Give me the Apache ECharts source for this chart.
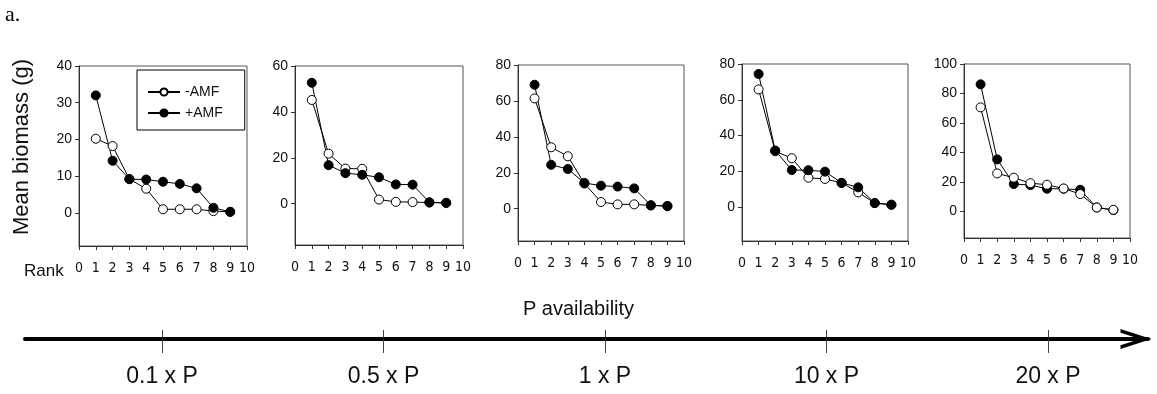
<!DOCTYPE html>
<html>
<head>
<meta charset="utf-8">
<script src="https://cdn.jsdelivr.net/npm/echarts@6/dist/echarts.min.js"></script>
<style>
  html, body { margin: 0; padding: 0; background: #fff; }
  #chart { width: 1157px; height: 394px; }
</style>
</head>
<body>
<div id="chart"></div>
<script>
// ---- data ----
const ranks = [1, 2, 3, 4, 5, 6, 7, 8, 9];
const seriesNames = ['-AMF', '+AMF'];
const pLabels = ['0.1 x P', '0.5 x P', '1 x P', '10 x P', '20 x P'];
const rankTicks = [0, 1, 2, 3, 4, 5, 6, 7, 8, 9, 10];

const minusP01 = [20.2, 18.2, 9.2, 6.6, 1.0, 1.0, 1.0, 0.5, 0.3];
const plusP01  = [32.0, 14.2, 9.2, 9.1, 8.5, 7.9, 6.7, 1.4, 0.3];
const minusP05 = [45.2, 21.8, 15.3, 15.2, 1.8, 0.8, 0.7, 0.5, 0.3];
const plusP05  = [52.7, 16.8, 13.3, 12.6, 11.5, 8.4, 8.3, 0.6, 0.4];
const minusP1  = [61.4, 34.2, 29.2, 14.0, 3.7, 2.4, 2.4, 1.8, 1.4];
const plusP1   = [69.0, 24.4, 22.1, 14.3, 12.8, 12.3, 11.3, 1.9, 1.5];
const minusP10 = [65.8, 31.2, 27.3, 16.4, 15.7, 13.5, 8.2, 2.2, 1.3];
const plusP10  = [74.4, 31.6, 20.7, 20.6, 19.8, 13.5, 11.0, 2.2, 1.3];
const minusP20 = [70.6, 25.8, 22.9, 19.2, 18.1, 15.6, 11.8, 2.7, 1.1];
const plusP20  = [86.2, 35.3, 18.6, 17.9, 15.4, 15.4, 14.7, 2.7, 0.9];

const yTicksP01 = [0, 10, 20, 30, 40];
const yTicksP05 = [0, 20, 40, 60];
const yTicksP1  = [0, 20, 40, 60, 80];
const yTicksP10 = [0, 20, 40, 60, 80];
const yTicksP20 = [0, 20, 40, 60, 80, 100];

const yMin = [-9, -18, -18, -19, -18];
const yMax = [40, 60, 80, 80, 100];

const minusAll = [minusP01, minusP05, minusP1, minusP10, minusP20];
const plusAll = [plusP01, plusP05, plusP1, plusP10, plusP20];
const yTicksAll = [yTicksP01, yTicksP05, yTicksP1, yTicksP10, yTicksP20];
const pTickPos = [1, 2, 3, 4, 5];

// ---- layout (pixels) ----
const layout = [
  { left: 79,  top: 66, width: 168, height: 180 },
  { left: 295, top: 66, width: 168, height: 179 },
  { left: 518, top: 65, width: 166, height: 176 },
  { left: 742, top: 64, width: 166, height: 177 },
  { left: 964, top: 64, width: 166, height: 174 }
];
const topOnMinus = [false, false, false, false, true];

const FONT = "'Liberation Sans', Arial, sans-serif";
const NARROW = "'Liberation Sans Narrow', 'Arial Narrow', 'DejaVu Sans Condensed', 'Liberation Sans', sans-serif";
const grids = [], xAxes = [], yAxes = [], series = [];

layout.forEach((g, i) => {
  grids.push({ left: g.left, top: g.top, width: g.width, height: g.height,
    show: true, borderColor: '#555', borderWidth: 1, backgroundColor: 'transparent' });
  xAxes.push({
    type: 'value', gridIndex: i, min: 0, max: 10, interval: 1,
    axisLine: { show: true, onZero: false, lineStyle: { color: '#333', width: 1 } },
    axisTick: { show: true, inside: false, length: 4, lineStyle: { color: '#333' } },
    axisLabel: { show: true, margin: 15, color: '#111', fontSize: 14, fontFamily: NARROW,
      customValues: rankTicks },
    splitLine: { show: false }
  });
  yAxes.push({
    type: 'value', gridIndex: i, min: yMin[i], max: yMax[i],
    axisLine: { show: true, onZero: false, lineStyle: { color: '#333', width: 1 } },
    axisTick: { show: true, inside: false, length: 4, customValues: yTicksAll[i], lineStyle: { color: '#333' } },
    axisLabel: { show: true, margin: 7, color: '#111', fontSize: 14, fontFamily: FONT,
      customValues: yTicksAll[i] },
    splitLine: { show: false }
  });
  const mk = (name, vals, filled) => ({
    name: name, type: 'line', xAxisIndex: i, yAxisIndex: i,
    data: ranks.map((r, k) => [r, vals[k]]),
    symbol: 'circle', symbolSize: 9, showAllSymbol: true,
    lineStyle: { color: '#000', width: 1 },
    itemStyle: filled ? { color: '#000', borderColor: '#000', borderWidth: 1 }
                      : { color: '#fff', borderColor: '#000', borderWidth: 1 },
    emphasis: { disabled: true },
    animation: false
  });
  const sMinus = mk(seriesNames[0], minusAll[i], false);
  const sPlus = mk(seriesNames[1], plusAll[i], true);
  if (topOnMinus[i]) { series.push(sPlus, sMinus); } else { series.push(sMinus, sPlus); }
});

// P availability arrow axis (grid 5)
grids.push({ left: 25, top: 338, width: 1123, height: 1, show: false });
const arrowMin = 1 - (162 - 25) / 221.5;
const arrowMax = arrowMin + 1123 / 221.5;
xAxes.push({
  type: 'value', gridIndex: 5, position: 'bottom', min: arrowMin, max: arrowMax,
  axisLine: { show: true, onZero: false, lineStyle: { color: '#000', width: 4 },
    symbol: ['none', 'path://M10,0 L20,31 L16.3,31 L10,11.5 L3.7,31 L0,31 Z'],
    symbolSize: [20, 31], symbolOffset: [0, -12] },
  axisTick: { show: true, inside: false, length: 14, customValues: pTickPos, lineStyle: { color: '#444', width: 1 } },
  axisLabel: { show: true, margin: 26, color: '#111', fontSize: 23, fontFamily: FONT,
    customValues: pTickPos, formatter: v => pLabels[Math.round(v) - 1] },
  splitLine: { show: false }
});
xAxes.push({
  type: 'value', gridIndex: 5, position: 'top', min: arrowMin, max: arrowMax,
  axisLine: { show: false, onZero: false },
  axisTick: { show: true, inside: false, length: 8, customValues: pTickPos, lineStyle: { color: '#444', width: 1 } },
  axisLabel: { show: false },
  splitLine: { show: false }
});
yAxes.push({ type: 'value', gridIndex: 5, show: false });
series.push({ type: 'line', xAxisIndex: 5, yAxisIndex: 5, data: [], silent: true });

const option = {
  backgroundColor: '#fff',
  animation: false,
  title: [
    { text: 'a.', left: 5, top: 4, padding: 0, textStyle: { fontFamily: "'Liberation Serif', 'Times New Roman', serif", fontSize: 22, fontWeight: 'normal', color: '#000' } },
    { text: 'Rank', left: 24, top: 263, padding: 0, textStyle: { fontFamily: FONT, fontSize: 17, fontWeight: 'normal', color: '#111' } },
    { text: 'P availability', left: 'center', top: 299, padding: 0, textStyle: { fontFamily: FONT, fontSize: 20, fontWeight: 'normal', color: '#111' } }
  ],
  legend: {
    data: seriesNames, orient: 'vertical', left: 137, top: 70,
    itemWidth: 32, itemHeight: 9, itemGap: 7,
    padding: [15, 22, 10, 10],
    borderColor: '#000', borderWidth: 1, backgroundColor: '#fff',
    textStyle: { fontFamily: FONT, fontSize: 14, color: '#111' },
    selectedMode: false
  },
  graphic: [
    { type: 'text', x: 22, y: 147, rotation: Math.PI / 2,
      style: { text: 'Mean biomass (g)', font: "22px 'Liberation Sans', Arial, sans-serif", fill: '#111',
        textAlign: 'center', textVerticalAlign: 'middle' } }
  ],
  grid: grids, xAxis: xAxes, yAxis: yAxes, series: series
};

const chart = echarts.init(document.getElementById('chart'), null, { renderer: 'canvas' });
chart.setOption(option);
</script>
</body>
</html>
